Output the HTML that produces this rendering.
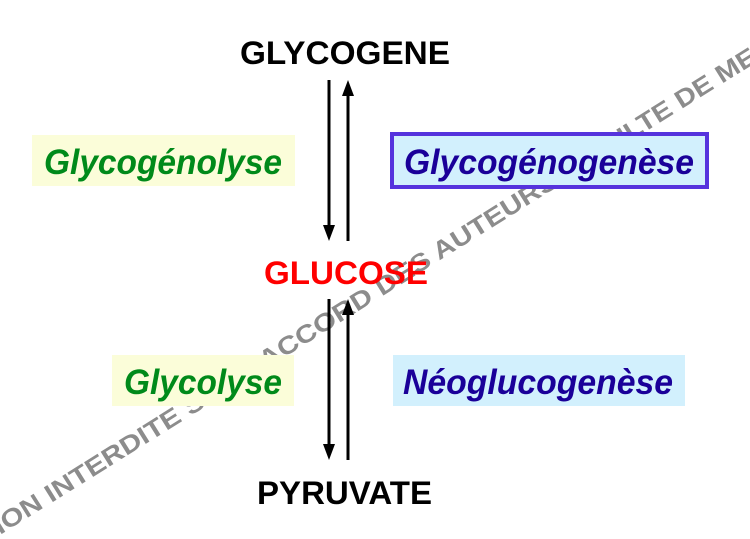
<!DOCTYPE html>
<html><head><meta charset="utf-8"><style>html,body{margin:0;padding:0;background:#fff}svg{display:block}</style></head>
<body>
<svg width="750" height="539" viewBox="0 0 750 539" xmlns="http://www.w3.org/2000/svg" font-family="Liberation Sans, Arial, sans-serif">
<g transform="translate(0,535) rotate(-32)" fill="#8c8c8c" font-weight="bold" font-size="25">
<text x="-18" y="0" textLength="678" lengthAdjust="spacingAndGlyphs">TION INTERDITE SANS ACCORD DES AUTEURS</text>
<text x="665" y="0" textLength="338" lengthAdjust="spacingAndGlyphs">FACULTE DE MEDECINE</text>
</g>
<rect x="32" y="135" width="263" height="51" fill="#fbfdd9"/>
<rect x="392" y="134" width="315" height="53" fill="#d2f0fd" stroke="#5533dd" stroke-width="4"/>
<rect x="112" y="355" width="182" height="51" fill="#fbfdd9"/>
<rect x="393" y="355" width="292" height="51" fill="#d2f0fd"/>
<g stroke="#000" stroke-width="3">
<line x1="329" y1="80" x2="329" y2="227"/>
<line x1="348" y1="241" x2="348" y2="94"/>
<line x1="329" y1="299" x2="329" y2="446"/>
<line x1="348" y1="460" x2="348" y2="313"/>
</g>
<g fill="#000">
<path d="M323,225 L335,225 L329,241 Z"/><path d="M342,96 L354,96 L348,80 Z"/>
<path d="M323,444 L335,444 L329,460 Z"/><path d="M342,315 L354,315 L348,299 Z"/>
</g>
<g font-weight="bold" font-size="32">
<text x="240" y="64" textLength="210" lengthAdjust="spacingAndGlyphs" fill="#000">GLYCOGENE</text>
<text x="264" y="284" textLength="164" lengthAdjust="spacingAndGlyphs" fill="#ff0000">GLUCOSE</text>
<text x="257" y="504" textLength="175" lengthAdjust="spacingAndGlyphs" fill="#000">PYRUVATE</text>
</g>
<g font-weight="bold" font-style="italic" font-size="35">
<text x="44" y="174" textLength="238" lengthAdjust="spacingAndGlyphs" fill="#008a1a">Glycogénolyse</text>
<text x="404" y="174" textLength="290" lengthAdjust="spacingAndGlyphs" fill="#1a0099">Glycogénogenèse</text>
<text x="124" y="394" textLength="158" lengthAdjust="spacingAndGlyphs" fill="#008a1a">Glycolyse</text>
<text x="403" y="394" textLength="270" lengthAdjust="spacingAndGlyphs" fill="#1a0099">Néoglucogenèse</text>
</g>
</svg>
</body></html>
